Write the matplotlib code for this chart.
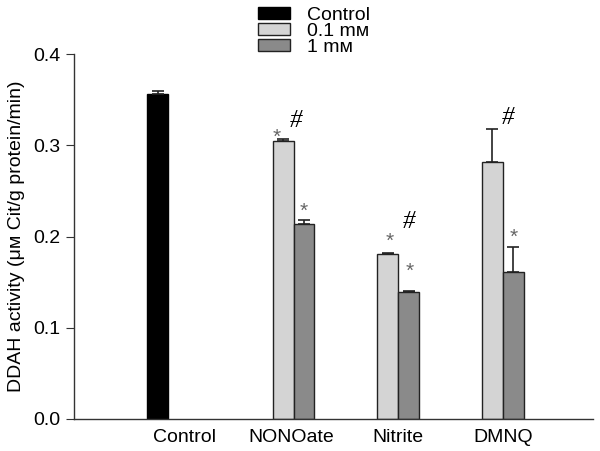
import numpy as np
import matplotlib
matplotlib.use('Agg')
import matplotlib.pyplot as plt
from matplotlib.patches import Patch

plt.rcParams['font.family'] = ['Liberation Sans', 'DejaVu Sans']

groups = ['Control', 'NONOate', 'Nitrite', 'DMNQ']
control_val = [0.356]
control_err = [0.004]
low_val = [0.305, 0.181, 0.282]     # 0.1 mM
low_err = [0.002, 0.001, 0.036]
high_val = [0.214, 0.139, 0.161]    # 1 mM
high_err = [0.004, 0.001, 0.027]

# significance markers: (series, treatment index, symbol, dx px, dy px)
marks = [
    ('low', 0, '*', -6, 11), ('low', 0, '#', 13, 18),
    ('high', 0, '*', 0, 19),
    ('low', 1, '*', 2, 21), ('low', 1, '#', 21, 31),
    ('high', 1, '*', 1, 30),
    ('low', 2, '#', 16, 11),
    ('high', 2, '*', 0, 20),
]

fig = plt.figure(figsize=(6, 4.51), dpi=100)
ax = fig.add_axes([0.123, 0.071, 0.865, 0.809])

w = 0.2
tx = np.arange(1, 4)
ekw = dict(capsize=4, elinewidth=1.2, capthick=1.2, ecolor='#222222')

ax.bar([-0.3], control_val, w, color='black', edgecolor='black', lw=1,
       yerr=[[0], control_err], error_kw=ekw, label='Control')
ax.bar(tx - w / 2, low_val, w, color='#d4d4d4', edgecolor='#222222', lw=1,
       yerr=[[0] * 3, low_err], error_kw=ekw, label='0.1 mᴍ')
ax.bar(tx + w / 2, high_val, w, color='#8a8a8a', edgecolor='#222222', lw=1,
       yerr=[[0] * 3, high_err], error_kw=ekw, label='1 mᴍ')

for series, i, sym, dx, dy in marks:
    if series == 'low':
        x, top = tx[i] - w / 2, low_val[i] + low_err[i]
    else:
        x, top = tx[i] + w / 2, high_val[i] + high_err[i]
    if sym == '*':
        ax.annotate('*', (x, top), xytext=(dx * 0.72, dy * 0.72 - 7),
                    textcoords='offset points', ha='center', va='center',
                    fontsize=15, color='#666666')
    else:
        ax.annotate('#', (x, top), xytext=(dx * 0.72, dy * 0.72),
                    textcoords='offset points', ha='center', va='center',
                    fontsize=18, fontstyle='italic', family='Liberation Serif',
                    color='black')

ax.set_xlim(-1.1, 3.86)
ax.set_ylim(0, 0.4)
ax.set_yticks([0.0, 0.1, 0.2, 0.3, 0.4])
ax.set_yticklabels(['0.0', '0.1', '0.2', '0.3', '0.4'])
ax.set_xticks([-0.04, 0.98, 2.0, 3.0])
ax.set_xticklabels(groups)
ax.tick_params(axis='x', length=0, labelsize=14, pad=7)
ax.tick_params(axis='y', direction='out', length=6, labelsize=14, color='#333333')
ax.set_ylabel('DDAH activity (μᴍ Cit/g protein/min)', fontsize=14, labelpad=6)

for s in ['top', 'right']:
    ax.spines[s].set_visible(False)
for s in ['left', 'bottom']:
    ax.spines[s].set_color('#333333')
    ax.spines[s].set_linewidth(1)

handles = [Patch(facecolor='black', edgecolor='black'),
           Patch(facecolor='#d4d4d4', edgecolor='#222222'),
           Patch(facecolor='#8a8a8a', edgecolor='#222222')]
fig.legend(handles, ['Control', '0.1 mᴍ', '1 mᴍ'], loc='upper left',
           bbox_to_anchor=(0.43, 0.985), frameon=False, fontsize=14,
           handlelength=1.65, handleheight=0.55, labelspacing=-0.05,
           handletextpad=0.85, borderpad=0.0, borderaxespad=0.0)

fig.savefig('out.png', dpi=100)
